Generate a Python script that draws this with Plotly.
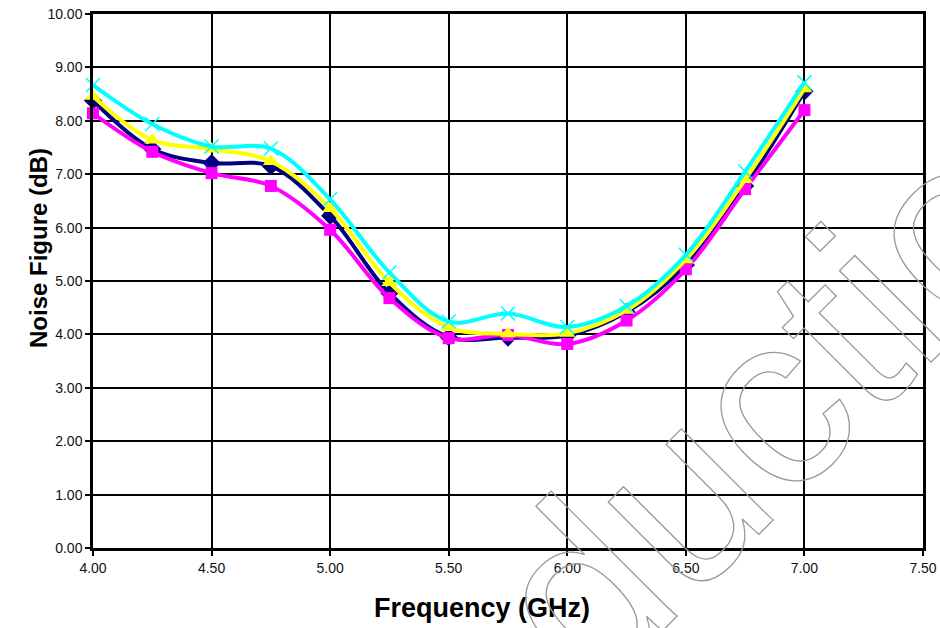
import plotly.graph_objects as go

# ---- data ----
freq_ghz = [4.00, 4.25, 4.50, 4.75, 5.00, 5.25, 5.50, 5.75, 6.00, 6.25, 6.50, 6.75, 7.00]
nf_navy = [8.38, 7.47, 7.21, 7.15, 6.22, 4.77, 3.95, 3.94, 3.98, 4.42, 5.30, 6.78, 8.55]
nf_magenta = [8.14, 7.42, 7.02, 6.78, 5.96, 4.68, 3.93, 3.99, 3.82, 4.26, 5.22, 6.72, 8.20]
nf_yellow = [8.46, 7.64, 7.47, 7.24, 6.36, 4.97, 4.13, 4.01, 4.02, 4.45, 5.40, 6.90, 8.60]
nf_cyan = [8.67, 7.94, 7.52, 7.48, 6.53, 5.16, 4.24, 4.39, 4.14, 4.53, 5.49, 7.05, 8.72]

x_title = "Frequency (GHz)"
y_title = "Noise Figure (dB)"
watermark = "Production"

series = [
    ("Series 1", nf_navy, "#000080", "diamond", 14),
    ("Series 2", nf_magenta, "#FF00FF", "square", 12),
    ("Series 3", nf_yellow, "#FFFF00", "triangle-up", 14),
    ("Series 4", nf_cyan, "#00FFFF", "x-thin-open", 14),
]

fig = go.Figure()
for name, vals, color, sym, size in series:
    marker = dict(symbol=sym, size=size, color=color)
    if sym == "x-thin-open":
        marker["line"] = dict(color=color, width=1.5)
    fig.add_trace(go.Scatter(
        x=freq_ghz, y=vals, name=name, mode="lines+markers",
        line=dict(color=color, width=4, shape="spline", smoothing=1.0),
        marker=marker, showlegend=False, cliponaxis=False,
    ))

L, R, T, B = 93, 17, 14, 80
fig.update_layout(
    width=940, height=628,
    margin=dict(l=L, r=R, t=T, b=B),
    paper_bgcolor="white", plot_bgcolor="white",
    font=dict(family="Arial, Liberation Sans, sans-serif", color="black"),
    showlegend=False,
)
fig.update_xaxes(
    range=[4.0, 7.5], tick0=4.0, dtick=0.5, tickformat=".2f",
    showgrid=True, gridcolor="black", gridwidth=2,
    showline=True, linecolor="black", linewidth=2.5, mirror=True,
    ticks="outside", ticklen=5, tickwidth=2, tickcolor="black",
    tickfont=dict(size=14, color="#111"), zeroline=False, automargin=False,
)
fig.update_yaxes(
    range=[0, 10], tick0=0, dtick=1, tickformat=".2f",
    showgrid=True, gridcolor="black", gridwidth=2,
    showline=True, linecolor="black", linewidth=2.5, mirror=True,
    ticks="outside", ticklen=5, tickwidth=2, tickcolor="black",
    tickfont=dict(size=14, color="#111"), zeroline=False, automargin=False,
)

pw, ph = 940 - L - R, 628 - T - B
def px(xp):
    return (xp - L) / pw
def py(yp):
    return (628 - B - yp) / ph

fig.add_annotation(text="<b>" + x_title + "</b>", xref="paper", yref="paper",
                   x=px(482), y=py(608), xanchor="center", yanchor="middle",
                   showarrow=False, font=dict(size=27, color="black"))
fig.add_annotation(text="<b>" + y_title + "</b>", xref="paper", yref="paper",
                   x=px(39), y=py(248), xanchor="center", yanchor="middle",
                   textangle=-90, showarrow=False, font=dict(size=24, color="black"))
fig.add_annotation(text=watermark, xref="paper", yref="paper",
                   x=px(676), y=py(497), xanchor="center", yanchor="middle",
                   textangle=-45, showarrow=False,
                   font=dict(size=245, color="rgba(150,150,150,0.25)",
                             family="Arial, Liberation Sans, sans-serif"))

post = """
document.body.style.margin = '0';
document.body.style.padding = '0';
var gd = document.getElementById('{plot_id}');
function outline(){
  gd.querySelectorAll('.annotation-text').forEach(function(t){
    if (t.textContent === 'Production') {
      t.style.fill = 'none';
      t.style.stroke = '#999999';
      t.style.strokeWidth = '1.3px';
    }
  });
}
outline();
gd.on && gd.on('plotly_afterplot', outline);
"""
fig.write_html("out.html", post_script=post, config={"displayModeBar": False})
